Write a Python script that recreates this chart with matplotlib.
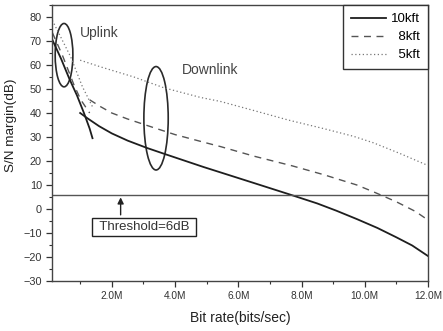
import matplotlib
matplotlib.use("Agg")
import matplotlib.pyplot as plt
from matplotlib.patches import Ellipse
from matplotlib.ticker import MultipleLocator, FuncFormatter

plt.rcParams['font.family'] = ['Liberation Sans', 'DejaVu Sans']

# ---- data (bit rate in Mbit/s, S/N margin in dB) ----
up_10k_x = [0.12, 0.4, 0.65, 0.9, 1.12, 1.3, 1.39]
up_10k_y = [70.5, 62.5, 54.5, 47.3, 40.0, 33.5, 29.5]
up_8k_x = [0.12, 0.44, 0.81, 1.02, 1.3]
up_8k_y = [73.5, 64.0, 51.5, 45.5, 40.0]
up_5k_x = [0.12, 0.7, 1.07, 1.39]
up_5k_y = [78.6, 63.4, 51.0, 42.6]

dn_10k_x = [1.0, 1.23, 1.6, 2.0, 2.5, 3.12, 3.7, 4.9, 5.45, 6.5, 7.64, 8.5, 9.1, 9.75, 10.4, 11.0, 11.5, 12.0]
dn_10k_y = [40.0, 37.8, 34.5, 31.5, 28.5, 25.4, 22.8, 17.5, 15.2, 10.8, 6.0, 2.3, -0.7, -4.2, -7.9, -11.8, -15.2, -19.6]
dn_8k_x = [1.3, 1.65, 2.0, 2.5, 3.3, 4.0, 5.0, 5.44, 6.5, 7.7, 8.7, 9.75, 10.32, 11.0, 11.6, 12.0]
dn_8k_y = [45.5, 42.6, 40.0, 37.5, 34.0, 31.0, 27.5, 26.0, 22.0, 18.0, 14.3, 10.0, 6.9, 3.0, -1.0, -4.6]
dn_5k_x = [1.0, 1.65, 2.7, 3.65, 4.8, 5.44, 6.5, 7.6, 8.7, 9.64, 10.27, 11.1, 11.95]
dn_5k_y = [62.0, 59.2, 55.0, 50.5, 46.5, 44.8, 41.0, 37.0, 33.5, 30.3, 27.6, 23.2, 18.4]

threshold = 6
series_labels = ['10kft', '\u20078kft', '\u20075kft']
x_ticks = [2, 4, 6, 8, 10, 12]
y_ticks = list(range(-30, 90, 10))

fig = plt.figure(figsize=(4.43, 3.31), dpi=100)
ax = fig.add_axes([0.1167, 0.1511, 0.8494, 0.8338])

c10, c8, c5 = '#1e1e1e', '#555555', '#777777'
l1, = ax.plot(up_10k_x, up_10k_y, color=c10, lw=1.3)
ax.plot(dn_10k_x, dn_10k_y, color=c10, lw=1.3)
l2, = ax.plot(up_8k_x, up_8k_y, color=c8, lw=1.0, dashes=(5, 4))
ax.plot(dn_8k_x, dn_8k_y, color=c8, lw=1.0, dashes=(5, 4))
l3, = ax.plot(up_5k_x, up_5k_y, color=c5, lw=0.9, dashes=(1, 2))
ax.plot(dn_5k_x, dn_5k_y, color=c5, lw=0.9, dashes=(1, 2))

ax.axhline(threshold, color='#555555', lw=1.0)

ax.add_patch(Ellipse((0.49, 64.1), 0.56, 26.4, fill=False, ec='#2a2a2a', lw=1.2))
ax.add_patch(Ellipse((3.40, 37.8), 0.77, 43.1, fill=False, ec='#2a2a2a', lw=1.2))

ax.text(1.0, 73.2, 'Uplink', fontsize=10, color='#444444', ha='left', va='center')
ax.text(4.21, 58.1, 'Downlink', fontsize=10, color='#444444', ha='left', va='center')

ax.annotate('', xy=(2.28, threshold), xytext=(2.28, -3.6),
            arrowprops=dict(arrowstyle='-|>', color='#222222', lw=1.0, mutation_scale=9))
ax.text(3.03, -7.5, ' Threshold=6dB ', fontsize=9.5, color='#333333', ha='center', va='center',
        bbox=dict(boxstyle='square,pad=0.25', fc='white', ec='#222222', lw=1.0))

ax.set_xlim(0.1, 12)
ax.set_ylim(-30, 85)
ax.set_xticks(x_ticks)
ax.xaxis.set_major_formatter(FuncFormatter(lambda v, p: f'{v:.1f}M'))
ax.xaxis.set_minor_locator(MultipleLocator(1))
ax.set_yticks(y_ticks)
ax.yaxis.set_minor_locator(MultipleLocator(5))
ax.tick_params(axis='both', which='major', direction='out', length=4.5, width=0.9, color='#333333')
ax.tick_params(axis='both', which='minor', direction='out', length=2.5, width=0.8, color='#333333')
ax.tick_params(axis='x', labelsize=7.3, pad=3, labelcolor='#333333')
ax.tick_params(axis='y', labelsize=7.8, pad=2.5, labelcolor='#333333')
for s in ax.spines.values():
    s.set_color('#444444')
    s.set_linewidth(1.0)

ax.set_xlabel('Bit rate(bits/sec)', fontsize=10, color='#222222', labelpad=7)
ax.set_ylabel('S/N margin(dB)', fontsize=9.7, color='#222222')
ax.yaxis.set_label_coords(-0.092, 0.565)

leg = ax.legend([l1, l2, l3], series_labels, loc='upper right', fontsize=9.5,
                frameon=True, fancybox=False, framealpha=1, edgecolor='#333333',
                borderaxespad=0, handlelength=2.7, handletextpad=0.35,
                labelspacing=0.45, borderpad=0.6)
leg.get_frame().set_linewidth(1.0)

fig.savefig('out.png', dpi=100)
